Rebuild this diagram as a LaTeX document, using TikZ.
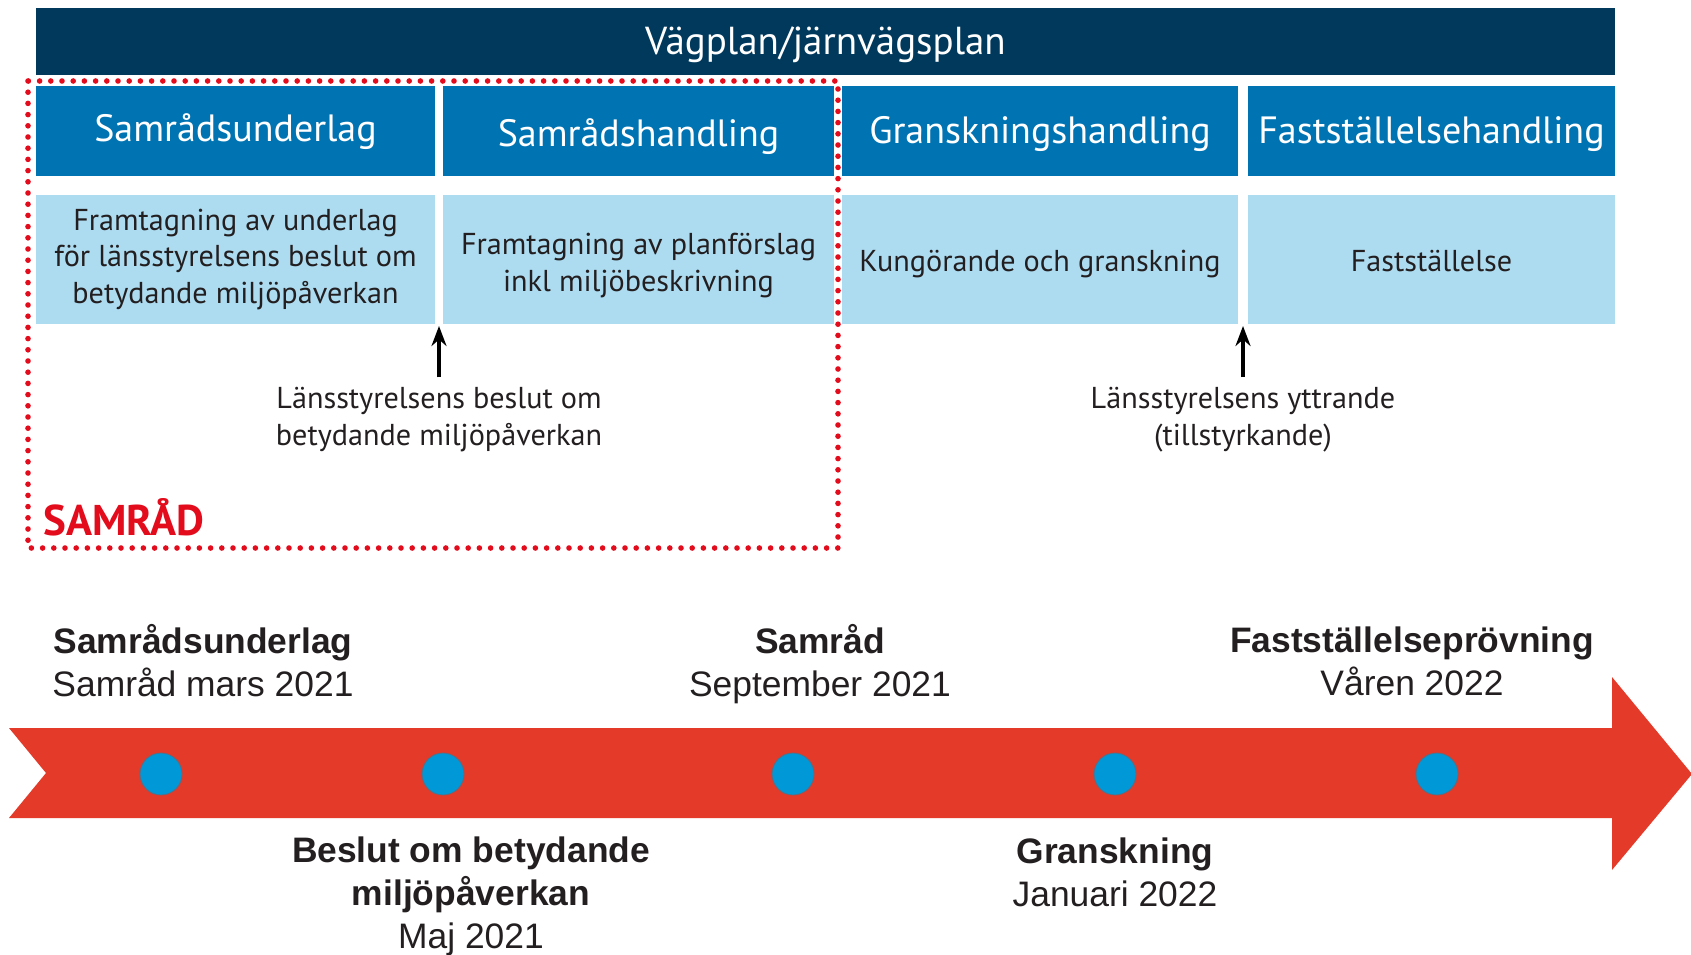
\documentclass[tikz,border=0pt]{standalone}
\usepackage{fontspec}
\setmainfont{PT Sans}
\newfontfamily\arialfont{Liberation Sans}
\usetikzlibrary{positioning,arrows.meta}
\definecolor{planblue}{RGB}{0,57,92}
\definecolor{headblue}{RGB}{0,116,179}
\definecolor{taskblue}{RGB}{173,220,241}
\definecolor{samradred}{RGB}{226,12,28}
\definecolor{arrowred}{RGB}{227,58,41}
\definecolor{dotblue}{RGB}{0,152,214}
\definecolor{dotline}{RGB}{90,110,130}
\definecolor{textgray}{RGB}{35,31,32}
% sänk texten utan att ändra lådans mått
\newcommand{\sank}[2]{\raisebox{-#1}[\height][\depth]{#2}}

\begin{document}
\begin{tikzpicture}[x=0.5pt,y=-0.5pt,>={Stealth[length=10pt,width=7.5pt]},
		plan node/.style={fill=planblue,text=white,inner sep=0pt,minimum width=789.5pt,minimum height=33.5pt,font=\fontsize{19.5}{23}\selectfont},
		head node/.style={fill=headblue,text=white,inner sep=0pt,minimum height=45pt,font=\fontsize{19}{23}\selectfont},
		task node/.style={fill=taskblue,text=textgray,inner sep=0pt,minimum height=64.5pt,align=center,font=\fontsize{15.1}{18.3}\selectfont},
		note node/.style={text=textgray,align=center,inner sep=5pt,font=\fontsize{15.1}{18.5}\selectfont},
		dot node/.style={circle,fill=dotblue,draw=dotline,line width=0.4pt,minimum size=21pt,inner sep=0pt},
		time node/.style={text=textgray,align=center,inner sep=0pt,font=\arialfont\fontsize{17.7}{21.5}\selectfont}]
		\useasboundingbox (0,0) rectangle (1691,954);
		% planens rubrik
		\node[plan node] (plan) at (825.5,41.5) {\sank{1.5pt}{Vägplan/järnvägsplan}};
		% handlingar
		\node[head node, minimum width=199.5pt] (h1) at (235.5,131) {\sank{0.5pt}{Samrådsunderlag}};
		\node[head node, minimum width=195.5pt] (h2) at (638.5,131) {\sank{3pt}{Samrådshandling}};
		\node[head node, minimum width=198pt] (h3) at (1040,131) {\sank{1.5pt}{Granskningshandling}};
		\node[head node, minimum width=183.5pt] (h4) at (1431.5,131) {\sank{1.5pt}{Fastställelsehandling}};
		% moment
		\node[task node, minimum width=199.5pt] (t1) at (235.5,259.5) {Framtagning av underlag\\för länsstyrelsens beslut om\\betydande miljöpåverkan};
		\node[task node, minimum width=195.5pt] (t2) at (638.5,259.5) {\sank{3pt}{\begin{tabular}{@{}c@{}}Framtagning av planförslag\\inkl miljöbeskrivning\end{tabular}}};
		\node[task node, minimum width=198pt] (t3) at (1040,259.5) {\sank{2.5pt}{Kungörande och granskning}};
		\node[task node, minimum width=183.5pt] (t4) at (1431.5,259.5) {\sank{1pt}{Fastställelse}};
		% länsstyrelsen
		\coordinate (g1) at (439,326);
		\coordinate (g2) at (1243,326);
		\node[note node] (n1) at (439,420) {Länsstyrelsens beslut om\\betydande miljöpåverkan};
		\node[note node] (n2) at (1243,420) {Länsstyrelsens yttrande\\(tillstyrkande)};
		\draw[->,line width=1.6pt] (n1) -- (g1);
		\draw[->,line width=1.6pt] (n2) -- (g2);
		% samråd
		\draw[samradred,line width=2.8pt,line cap=round,dash pattern=on 0pt off 5.6pt] (28,81) rectangle (838,548);
		\node[text=samradred,anchor=west,inner sep=0pt,font=\bfseries\fontsize{21.5}{25}\selectfont] (samrad) at (43,517) {SAMRÅD};
		% tidslinje
		\fill[arrowred] (9,728) -- (1612,728) -- (1612,677) -- (1692,774) -- (1612,870) -- (1612,818) -- (9,818) -- (46,773) -- cycle;
		\node[dot node] (d1) at (161,774) {};
		\node[dot node] (d2) at (443,774) {};
		\node[dot node] (d3) at (793,774) {};
		\node[dot node] (d4) at (1115,774) {};
		\node[dot node] (d5) at (1437,774) {};
		\node[time node] (m1) at (203,661) {\textbf{Samrådsunderlag}\\Samråd mars 2021};
		\node[time node] (m3) at (820,664) {\textbf{Samråd}\\September 2021};
		\node[time node] (m5) at (1412,661) {\textbf{Fastställelseprövning}\\Våren 2022};
		\node[time node] (m2) at (471,896) {\textbf{Beslut om betydande}\\\textbf{miljöpåverkan}\\Maj 2021};
		\node[time node] (m4) at (1115,872) {\textbf{Granskning}\\Januari 2022};
\end{tikzpicture}
\end{document}
